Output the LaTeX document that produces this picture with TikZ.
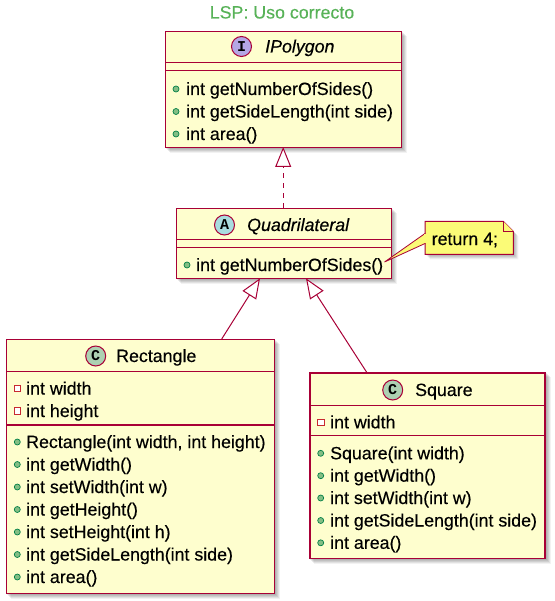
\documentclass[tikz,border=0pt]{standalone}
\usepackage{fontspec}
\setmainfont{Liberation Sans}[FakeBold=0.35]
\newfontfamily\monof{Liberation Mono}
\usetikzlibrary{arrows.meta,calc}
\definecolor{umlred}{RGB}{168,0,54}
\definecolor{umlfill}{RGB}{254,254,206}
\definecolor{notefill}{RGB}{251,251,119}
\definecolor{titlegreen}{RGB}{88,178,88}
\definecolor{icI}{RGB}{180,167,229}
\definecolor{icA}{RGB}{169,220,223}
\definecolor{icC}{RGB}{173,209,178}
\definecolor{pubfill}{RGB}{132,190,132}
\definecolor{pubdraw}{RGB}{3,128,72}
\definecolor{privdraw}{RGB}{200,41,48}
\pgfdeclarelayer{bg}
\pgfsetlayers{bg,main}
\newcommand\shad[1]{%
  \begin{pgfonlayer}{bg}
  \foreach \s/\o in {1/0.08,2/0.08,3/0.08,4/0.07,5/0.05}{%
    \fill[black,opacity=\o] ($(#1.north west)+(\s,\s)$) rectangle ($(#1.south east)+(\s,\s)$);}
  \end{pgfonlayer}}
\begin{document}
\begin{tikzpicture}[x=1pt,y=-1pt,
  box/.style={draw=umlred,fill=umlfill,line width=1.2pt,anchor=north west,inner sep=0pt},
  sepline/.style={draw=umlred,line width=1.2pt},
  mtxt/.style={anchor=base west,inner sep=0pt,font=\fontsize{17.8}{20}\selectfont},
  pubic/.style={circle,draw=pubdraw,fill=pubfill,line width=0.7pt,minimum size=6pt,inner sep=0pt},
  privic/.style={rectangle,draw=privdraw,fill=white,line width=0.8pt,minimum size=6.5pt,inner sep=0pt},
  badge/.style={circle,draw=umlred,line width=1pt,minimum size=20pt,inner sep=0pt,font=\monof\bfseries\fontsize{15}{15}\selectfont},
  inh/.style={draw=umlred,line width=1pt,-{Triangle[length=20pt,width=16pt,fill=white]}},
]
\useasboundingbox (0,0) rectangle (554,601);

% title
\node[anchor=base,inner sep=0pt,text=titlegreen,font=\fontsize{17.8}{20}\selectfont] (title) at (282,18.5) {LSP: Uso correcto};

% ---------- IPolygon ----------
\node[box,minimum width=236pt,minimum height=116pt] (ipoly) at (165,31) {};
\shad{ipoly}
\draw[sepline] (165,62.5) -- (401,62.5);
\draw[sepline] (165,70.5) -- (401,70.5);
\node[badge,fill=icI] (ipolyb) at (241.5,46.5) {I};
\node[mtxt,font=\fontsize{17.8}{20}\selectfont\itshape] (ipolyn) at (265,52.5) {IPolygon};
\foreach \y/\t [count=\i] in {89/{int getNumberOfSides()},111.5/{int getSideLength(int side)},134/{int area()}}{
  \node[pubic] (ipm\i) at (176,\y) {};
  \node[mtxt] (ipt\i) at (186,\y+6) {\t};
}

% ---------- Quadrilateral ----------
\node[box,minimum width=215pt,minimum height=70pt] (quad) at (176,208) {};
\shad{quad}
\draw[sepline] (176,239.5) -- (391,239.5);
\draw[sepline] (176,247.5) -- (391,247.5);
\node[badge,fill=icA] (quadb) at (224.5,225) {A};
\node[mtxt,font=\fontsize{17.8}{20}\selectfont\itshape] (quadn) at (247,231) {Quadrilateral};
\node[pubic] (qm1) at (187,265) {};
\node[mtxt] (qt1) at (196,271) {int getNumberOfSides()};

% ---------- Note ----------
\coordinate (nA) at (425,221.5);
\coordinate (nB) at (503.3,221.5);
\coordinate (nC) at (513.3,231.5);
\coordinate (nD) at (513.3,254.3);
\coordinate (nE) at (425,254.3);
\begin{pgfonlayer}{bg}
\foreach \s/\o in {1/0.08,2/0.08,3/0.08,4/0.07,5/0.05}{%
  \fill[black,opacity=\o] ($(nA)+(\s,\s)$) -- ($(nB)+(\s,\s)$) -- ($(nC)+(\s,\s)$) -- ($(nD)+(\s,\s)$) -- ($(nE)+(\s,\s)$) -- cycle;}
\end{pgfonlayer}
\draw[draw=umlred,fill=notefill,line width=1pt] (nA) -- (nB) -- (nC) -- (nD) -- (nE) -- cycle;
\draw[draw=umlred,fill=notefill,line width=1pt] (nB) -- (503.3,231.5) -- (nC);
\node[mtxt] (note) at (431.5,245) {return 4;};
\coordinate (wedge) at (384.5,262);
\draw[draw=umlred,fill=notefill,line width=0.8pt] (wedge) -- (425,233.5) -- (425,243.5) -- cycle;
\fill[notefill] (424.3,234.5) rectangle (426,242.5);

% ---------- Rectangle ----------
\node[box,minimum width=268pt,minimum height=254pt] (rect) at (6,339) {};
\shad{rect}
\draw[sepline] (6,371.7) -- (274,371.7);
\draw[sepline] (6,425) -- (274,425);
\node[badge,fill=icC] (rectb) at (95.7,356) {C};
\node[mtxt] (rectn) at (116,362) {Rectangle};
\foreach \y/\t [count=\i] in {388.5/{int width},411/{int height}}{
  \node[privic] (ra\i) at (17.3,\y) {};
  \node[mtxt] (rat\i) at (26,\y+6) {\t};
}
\foreach \y/\t [count=\i] in {442/{Rectangle(int width, int height)},464.5/{int getWidth()},487/{int setWidth(int w)},509.5/{int getHeight()},532/{int setHeight(int h)},554.5/{int getSideLength(int side)},577/{int area()}}{
  \node[pubic] (rm\i) at (17.3,\y) {};
  \node[mtxt] (rmt\i) at (26,\y+6) {\t};
}

% ---------- Square ----------
\node[box,minimum width=235pt,minimum height=185.4pt] (sq) at (309.3,372.3) {};
\shad{sq}
\draw[sepline] (309.3,405.7) -- (544.3,405.7);
\draw[sepline] (309.3,435.7) -- (544.3,435.7);
\node[badge,fill=icC] (sqb) at (392.7,390) {C};
\node[mtxt] (sqn) at (415,396) {Square};
\node[privic] (sa1) at (320.7,422.3) {};
\node[mtxt] (sat1) at (330,428.3) {int width};
\foreach \y/\t [count=\i] in {453.3/{Square(int width)},475.7/{int getWidth()},498/{int setWidth(int w)},520.5/{int getSideLength(int side)},542.8/{int area()}}{
  \node[pubic] (sm\i) at (320.7,\y) {};
  \node[mtxt] (smt\i) at (330,\y+6) {\t};
}

% ---------- connectors ----------
\coordinate (qIn) at (283.2,208);
\coordinate (pOut) at (283.2,147);
\draw[inh,dash pattern=on 5pt off 5pt] (qIn) -- (pOut);
\coordinate (rIn) at (221.7,339);
\coordinate (qR) at (260,278.3);
\draw[inh] (rIn) -- (qR);
\coordinate (sIn) at (366.7,372.3);
\coordinate (qS) at (306,278.3);
\draw[inh] (sIn) -- (qS);
\end{tikzpicture}
\end{document}
